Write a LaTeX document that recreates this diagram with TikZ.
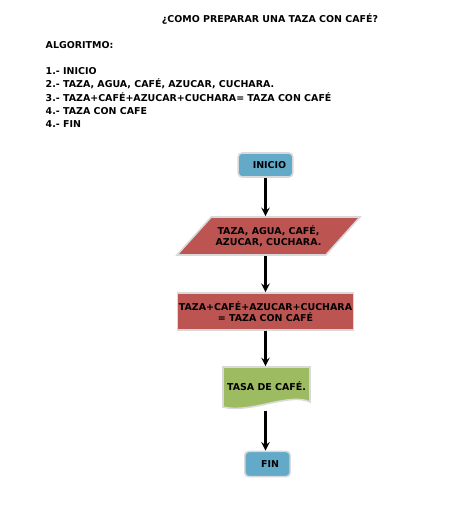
\documentclass[tikz,border=0pt]{standalone}
\usepackage{fontspec}
\setmainfont{DejaVu Sans}
\usepackage{xcolor}
\usetikzlibrary{shapes.geometric}
\definecolor{cajaazul}{RGB}{98,170,200}
\definecolor{cajaroja}{RGB}{188,84,82}
\definecolor{cajaverde}{RGB}{157,187,97}
\tikzset{
  letra/.style={font=\bfseries\fontsize{7.1}{8}\selectfont},
  flecha/.style={line width=1.8pt,-stealth},
  borde/.style={draw=gray!30,line width=1.2pt}
}
\begin{document}
\begin{tikzpicture}[x=0.75pt,y=-0.75pt]
\useasboundingbox (0,0) rectangle (474,518);
% texto de arriba
\node[letra] (titulo) at (270,19) {¿COMO PREPARAR UNA TAZA CON CAFÉ?};
\node[letra,anchor=west] (algo) at (41,45) {ALGORITMO:};
\node[letra,anchor=west] (p1) at (41,71) {1.- INICIO};
\node[letra,anchor=west] (p2) at (41,84) {2.- TAZA, AGUA, CAFÉ, AZUCAR, CUCHARA.};
\node[letra,anchor=west] (p3) at (41,97.5) {3.- TAZA+CAFÉ+AZUCAR+CUCHARA= TAZA CON CAFÉ};
\node[letra,anchor=west] (p4) at (41,111) {4.- TAZA CON CAFE};
\node[letra,anchor=west] (p5) at (41,124) {4.- FIN};
% diagrama
\node[letra,borde,fill=cajaazul,rounded corners=3pt,minimum width=41pt,minimum height=18pt] (inicio) at (265.5,165) {\hspace{6pt}INICIO};
\node[letra,borde,fill=cajaroja,trapezium,trapezium left angle=41,trapezium right angle=139,trapezium stretches=true,minimum width=137pt,minimum height=28.5pt,align=center] (datos) at (268.5,236) {TAZA, AGUA, CAFÉ,\\AZUCAR, CUCHARA.};
\node[letra,borde,fill=cajaroja,minimum width=131pt,minimum height=28pt,align=center,inner sep=1pt] (proceso) at (265.5,311.5) {TAZA+CAFÉ+AZUCAR+CUCHARA\\= TAZA CON CAFÉ};
\draw[borde,fill=cajaverde] (223,367) -- (310,367) -- (310,402) .. controls (290,392) and (250,414) .. (223,407) -- cycle;
\node[letra,minimum width=65pt,minimum height=30pt] (taza) at (266.5,386.5) {TASA DE CAFÉ.};
\node[letra,borde,fill=cajaazul,rounded corners=3pt,minimum width=34pt,minimum height=19pt] (fin) at (267.5,464) {\hspace{4pt}FIN};
\draw[flecha] (inicio.south) -- (datos.north -| inicio.south);
\draw[flecha] (datos.south -| inicio.south) -- (proceso.north -| inicio.south);
\draw[flecha] (proceso.south -| inicio.south) -- (taza.north -| inicio.south);
\draw[flecha] ([yshift=-3pt]taza.south -| inicio.south) -- (fin.north -| inicio.south);
\end{tikzpicture}
\end{document}
